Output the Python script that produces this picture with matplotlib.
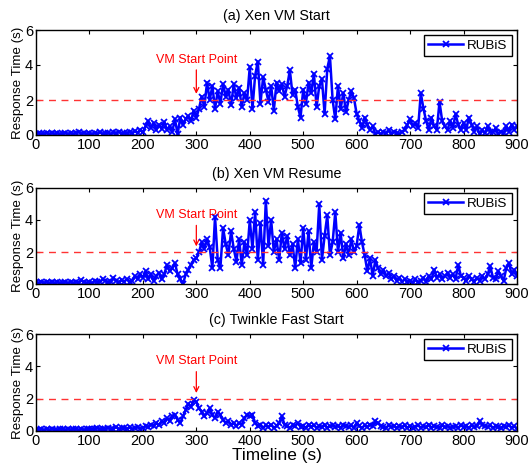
import matplotlib.pyplot as plt
import numpy as np

plt.rcParams['font.family'] = ['Liberation Sans', 'DejaVu Sans']

t = np.arange(0, 905, 5)

xen_start = [
    0.05, 0.1, 0.05, 0.08, 0.12, 0.05, 0.1, 0.06, 0.1, 0.05, 0.08, 0.12, 0.06, 0.1, 0.05, 0.12, 0.2, 0.08, 0.1, 0.06,
    0.1, 0.05, 0.12, 0.08, 0.15, 0.06, 0.1, 0.12, 0.05, 0.15, 0.1, 0.2, 0.08, 0.12, 0.1, 0.18, 0.1, 0.22, 0.12, 0.3,
    0.15, 0.5, 0.8, 0.4, 0.7, 0.3, 0.6, 0.35, 0.75, 0.3, 0.5, 0.2, 0.9, 0.05, 1.0, 0.6, 0.9, 1.1, 0.8, 1.4,
    1.0, 1.5, 2.2, 1.6, 3.0, 2.0, 2.8, 1.5, 2.5, 1.8, 2.9, 2.2, 2.6, 1.7, 2.9, 2.1, 2.7, 1.6, 2.4, 2.0,
    3.9, 1.5, 3.4, 4.2, 1.8, 3.3, 2.6, 1.9, 2.8, 1.4, 3.0, 2.5, 2.9, 2.2, 2.8, 3.7, 2.3, 2.6, 1.6, 1.0,
    2.6, 1.8, 3.0, 2.4, 3.5, 1.6, 2.8, 3.2, 1.2, 3.8, 4.5, 2.0, 0.9, 2.8, 1.5, 2.4, 1.3, 2.0, 2.5, 2.1,
    1.2, 0.8, 0.4, 1.0, 0.6, 0.3, 0.5, 0.05, 0.15, 0.05, 0.2, 0.1, 0.3, 0.05, 0.2, 0.1, 0.05, 0.2, 0.3, 0.6,
    0.9, 0.5, 0.7, 0.4, 2.4, 1.5, 0.8, 0.3, 1.0, 0.5, 0.3, 1.9, 0.8, 0.5, 0.3, 0.8, 0.4, 1.2, 0.6, 0.3,
    0.7, 0.3, 1.0, 0.6, 0.2, 0.5, 0.05, 0.3, 0.1, 0.5, 0.2, 0.15, 0.4, 0.05, 0.2, 0.1, 0.5, 0.2, 0.6, 0.3, 0.5,
]

xen_resume = [
    0.1, 0.05, 0.15, 0.08, 0.12, 0.05, 0.1, 0.06, 0.12, 0.05, 0.08, 0.1, 0.06, 0.12, 0.05, 0.1, 0.08, 0.25, 0.1, 0.06,
    0.15, 0.05, 0.2, 0.1, 0.15, 0.3, 0.2, 0.1, 0.15, 0.4, 0.2, 0.1, 0.25, 0.15, 0.3, 0.1, 0.2, 0.5, 0.3, 0.6,
    0.4, 0.8, 0.3, 0.6, 0.2, 0.5, 0.7, 0.3, 0.6, 1.2, 0.8, 1.0, 1.3, 0.6, 0.3, 0.0, 0.6, 0.9, 1.2, 1.5,
    1.6, 2.0, 2.6, 2.2, 2.8, 2.3, 1.0, 4.2, 1.5, 1.0, 3.5, 2.5, 1.8, 3.3, 2.2, 1.4, 2.8, 1.2, 2.6, 1.8,
    4.0, 2.2, 4.5, 1.5, 3.8, 1.2, 5.2, 2.4, 4.0, 2.0, 2.8, 1.5, 3.2, 2.2, 3.0, 1.8, 2.5, 1.0, 2.8, 1.3,
    3.5, 1.5, 3.3, 1.0, 2.6, 2.0, 5.0, 1.5, 3.0, 4.3, 1.8, 2.6, 4.5, 2.0, 3.2, 1.6, 2.5, 1.8, 2.8, 2.0,
    2.4, 3.7, 2.6, 1.8, 0.8, 1.6, 0.5, 1.5, 1.0, 0.6, 0.9, 0.5, 0.7, 0.3, 0.5, 0.2, 0.4, 0.15, 0.3, 0.1,
    0.2, 0.05, 0.3, 0.1, 0.2, 0.4, 0.15, 0.5, 0.3, 0.9, 0.4, 0.6, 0.3, 0.5, 0.7, 0.4, 0.6, 0.3, 1.2, 0.5,
    0.4, 0.2, 0.5, 0.3, 0.15, 0.4, 0.2, 0.5, 0.3, 0.6, 1.1, 0.4, 0.3, 0.8, 0.5, 0.2, 1.0, 1.3, 0.6, 0.9, 0.5,
]

twinkle = [
    0.05, 0.08, 0.1, 0.05, 0.12, 0.06, 0.1, 0.08, 0.05, 0.1, 0.12, 0.06, 0.1, 0.08, 0.12, 0.1, 0.06, 0.12, 0.08, 0.1,
    0.15, 0.1, 0.12, 0.2, 0.1, 0.15, 0.12, 0.2, 0.1, 0.15, 0.25, 0.12, 0.18, 0.2, 0.15, 0.22, 0.12, 0.2, 0.25, 0.15,
    0.2, 0.3, 0.25, 0.4, 0.3, 0.5, 0.35, 0.6, 0.5, 0.8, 0.6, 0.9, 1.0, 0.7, 0.5, 0.9, 1.3, 1.7, 1.5, 1.9,
    1.8, 1.4, 1.2, 0.9, 1.1, 1.4, 1.0, 0.8, 1.2, 1.0, 0.7, 0.5, 0.6, 0.4, 0.5, 0.3, 0.5, 0.4, 0.8, 1.0,
    0.9, 1.0, 0.5, 0.3, 0.4, 0.2, 0.35, 0.25, 0.4, 0.2, 0.3, 0.5, 0.9, 0.4, 0.3, 0.2, 0.35, 0.3, 0.5, 0.25,
    0.3, 0.2, 0.4, 0.25, 0.35, 0.2, 0.3, 0.25, 0.4, 0.2, 0.3, 0.35, 0.25, 0.3, 0.2, 0.4, 0.3, 0.25, 0.35, 0.2,
    0.5, 0.3, 0.2, 0.35, 0.25, 0.4, 0.3, 0.6, 0.5, 0.3, 0.25, 0.2, 0.35, 0.25, 0.3, 0.2, 0.3, 0.25, 0.35, 0.2,
    0.3, 0.2, 0.25, 0.35, 0.2, 0.3, 0.25, 0.4, 0.2, 0.3, 0.25, 0.2, 0.35, 0.25, 0.3, 0.2, 0.25, 0.3, 0.2, 0.35,
    0.25, 0.3, 0.2, 0.35, 0.25, 0.3, 0.6, 0.4, 0.3, 0.25, 0.35, 0.2, 0.3, 0.25, 0.2, 0.3, 0.25, 0.35, 0.2, 0.3, 0.15,
]

titles = ['(a) Xen VM Start', '(b) Xen VM Resume', '(c) Twinkle Fast Start']
series = [xen_start, xen_resume, twinkle]
threshold = 2
start_point = 300

W, H = 529, 472
fig = plt.figure(figsize=(W / 100, H / 100), dpi=100)

# axes boxes in pixels: (top, bottom)
boxes = [(30, 135), (188, 284), (334, 431)]
left, right = 36, 517

for i in range(3):
    top, bot = boxes[i]
    ax = fig.add_axes([left / W, 1 - bot / H, (right - left) / W, (bot - top) / H])
    ax.plot(t, series[i], color='blue', lw=1.8, marker='x', ms=3.8, mew=1.3, label='RUBiS')
    ax.axhline(threshold, color='#ff3333', ls=(0, (5, 4)), lw=1)
    ax.annotate('VM Start Point', xy=(start_point, 2.35), xytext=(start_point, 4.3),
                ha='center', va='center', color='red', fontsize=9,
                arrowprops=dict(arrowstyle='->', color='red', lw=0.9, shrinkA=1, shrinkB=0))
    ax.set_xlim(0, 900)
    ax.set_ylim(0, 6)
    ax.set_xticks(range(0, 901, 100))
    ax.set_yticks([0, 2, 4, 6])
    ax.tick_params(direction='in', top=True, right=True, labelsize=10.5, length=3, pad=2)
    ax.set_title(titles[i], fontsize=10.3, pad=7)
    ax.set_ylabel('Response Time (s)', fontsize=9.6, labelpad=1)
    leg = ax.legend(loc='upper right', fontsize=9.7, handlelength=2.6, borderpad=0.3,
                    handletextpad=0.3, fancybox=False, framealpha=1, borderaxespad=0.4)
    leg.get_frame().set_edgecolor('black')
    leg.get_frame().set_linewidth(1)
    for s in ax.spines.values():
        s.set_linewidth(1)
    if i == 2:
        ax.set_xlabel('Timeline (s)', fontsize=12.4, labelpad=0)

fig.savefig('out.png', dpi=100)
